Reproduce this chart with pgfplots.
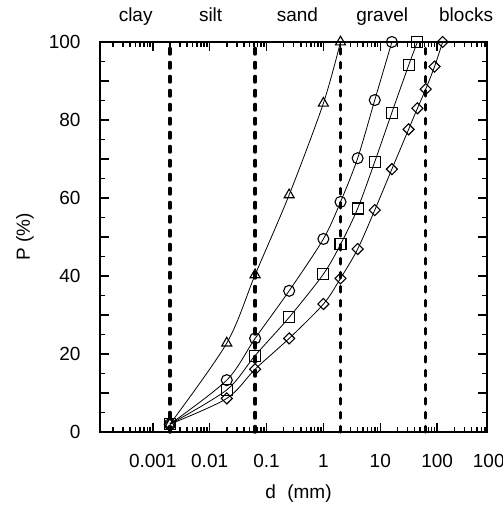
\documentclass[border=0pt]{standalone}
\usepackage{fontspec}
\setmainfont{Liberation Sans}
\usepackage{pgfplots}
\pgfplotsset{compat=1.18}

\begin{document}
\fontsize{19bp}{22bp}\selectfont
\begin{tikzpicture}
\begin{semilogxaxis}[
    scale only axis,
    width=387bp, height=390bp,
    xmin=1.18e-4, xmax=753,
    ymin=0, ymax=100,
    xtick={0.001,0.01,0.1,1,10,100},
    xticklabels={0.001,0.01,0.1,1,10,100},
    minor xtick={2e-4,3e-4,4e-4,5e-4,6e-4,7e-4,8e-4,9e-4,
                 0.002,0.003,0.004,0.005,0.006,0.007,0.008,0.009,
                 0.02,0.03,0.04,0.05,0.06,0.07,0.08,0.09,
                 0.2,0.3,0.4,0.5,0.6,0.7,0.8,0.9,
                 2,3,4,5,6,7,8,9,
                 20,30,40,50,60,70,80,90,
                 200,300,400,500,600,700},
    ytick={0,10,...,100},
    yticklabels={0,,20,,40,,60,,80,,100},
    minor ytick={5,15,...,95},
    tick align=inside,
    major tick length=9bp, minor tick length=5bp,
    every tick/.style={black, line width=1.5bp},
    axis line style={line width=2.5bp},
    /pgf/number format/assume math mode=true,
    xticklabel style={yshift=-16bp},
    yticklabel style={xshift=-13bp},
    xlabel={d\hspace{0.6em}(mm)}, ylabel={P (\%)},
    every axis x label/.style={at={(axis description cs:0.5,0)}, anchor=base, yshift=-66bp, xshift=5bp},
    every axis y label/.style={at={(axis description cs:0,0.5)}, rotate=90, anchor=center, yshift=75bp},
    clip=false,
]
% class boundaries
\addplot[black, line width=3.5bp, line cap=round, dash pattern=on 5.5bp off 8.5bp] coordinates {(0.002,0) (0.002,100)};
\addplot[black, line width=3.5bp, line cap=round, dash pattern=on 5.5bp off 8.5bp] coordinates {(0.063,0) (0.063,100)};
\addplot[black, line width=3.5bp, line cap=round, dash pattern=on 5.5bp off 8.5bp] coordinates {(2,0) (2,100)};
\addplot[black, line width=3.5bp, line cap=round, dash pattern=on 5.5bp off 8.5bp] coordinates {(63,0) (63,100)};

% grading curves
\addplot[black, line width=0.8bp, smooth, mark=triangle, mark size=5.8bp, mark options={line width=1.1bp, fill=none}] coordinates {
    (0.002,2.0) (0.02,22.8) (0.063,40.3) (0.25,60.8) (1,84.3) (2,100)
};
\addplot[black, line width=0.8bp, smooth, mark=o, mark size=5.5bp, mark options={line width=1.1bp}] coordinates {
    (0.002,2.0) (0.02,13.3) (0.063,24.0) (0.25,36.2) (1,49.5) (2,59.0) (4,70.2) (8,85.1) (16,100)
};
\addplot[black, line width=0.8bp, smooth, mark=square, mark size=5.5bp, mark options={line width=1.1bp, fill=none}] coordinates {
    (0.002,2.0) (0.02,10.8) (0.063,19.6) (0.25,29.4) (1,40.5) (2,48.1) (4,57.3) (8,69.3) (16,81.9) (31.5,94.0) (45,100)
};
\addplot[black, line width=0.8bp, smooth, mark=square, mark size=3.9bp, mark options={line width=1.1bp, fill=none, rotate=45}] coordinates {
    (0.002,2.0) (0.02,8.6) (0.063,16.1) (0.25,24.0) (1,32.8) (2,39.4) (4,46.9) (8,56.9) (16,67.4) (31.5,77.6) (45,83.0) (63,87.9) (90,93.7) (125,100)
};

% class names
\node[anchor=base, yshift=20bp] at (axis cs:5.0e-4,100) {clay};
\node[anchor=base, yshift=20bp] at (axis cs:0.0104,100) {silt};
\node[anchor=base, yshift=20bp] at (axis cs:0.35,100) {sand};
\node[anchor=base, yshift=20bp] at (axis cs:10.8,100) {gravel};
\node[anchor=base, yshift=20bp] at (axis cs:323,100) {blocks};
% label of the next decade, cut by the page edge as in the original
\node[anchor=north, yshift=-16bp, inner sep=0.333em] at (axis cs:1000,0) {1000};

\coordinate (sw) at (rel axis cs:0,0);
\coordinate (ne) at (rel axis cs:1,1);
\end{semilogxaxis}
\pgfresetboundingbox
\path[use as bounding box] ([shift={(-100bp,-83bp)}]sw) rectangle ([shift={(16bp,42bp)}]ne);
\end{tikzpicture}
\end{document}
